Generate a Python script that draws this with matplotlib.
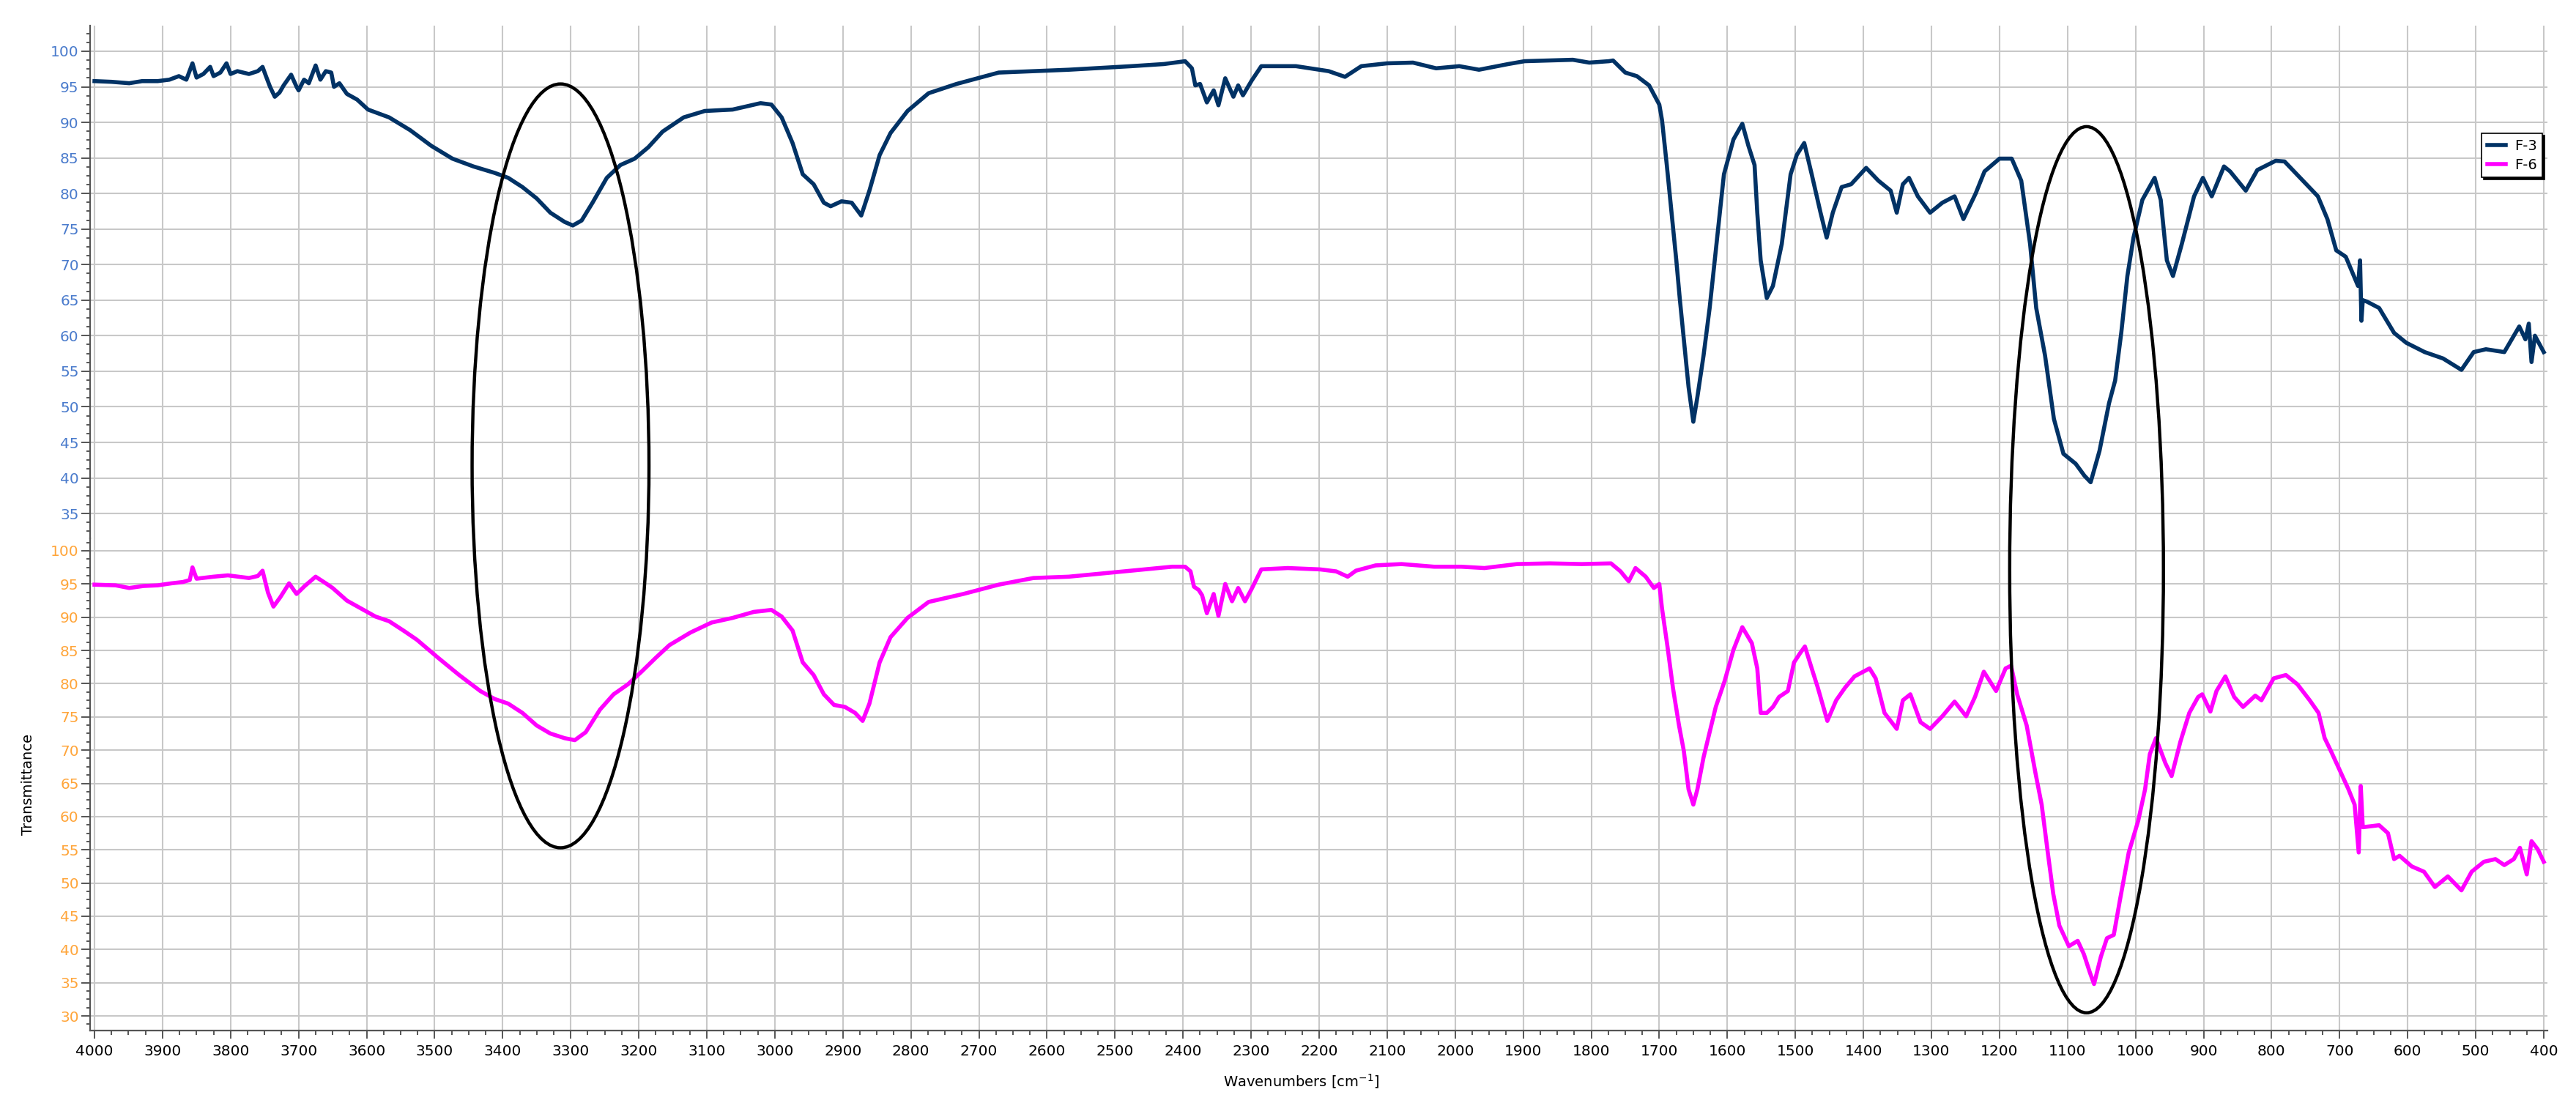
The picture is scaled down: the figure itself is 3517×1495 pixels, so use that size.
import matplotlib
matplotlib.use("Agg")
import matplotlib.pyplot as plt
from matplotlib.patches import Ellipse
from matplotlib.ticker import MultipleLocator, AutoMinorLocator

# F-3 spectrum (top panel), wavenumber [cm-1] / transmittance
wn_f3 = [4000, 3975, 3949, 3930, 3907, 3890, 3876, 3865, 3856, 3850, 3840, 3830, 3825,
         3815, 3806, 3800, 3790, 3773, 3760, 3753, 3748, 3742, 3735, 3728, 3722, 3711,
         3703, 3700, 3692, 3685, 3675, 3668, 3660, 3652, 3648, 3640, 3629, 3614, 3598,
         3567, 3536, 3505, 3474, 3443, 3412, 3392, 3371, 3350, 3330, 3309, 3297, 3284,
         3268, 3247, 3227, 3206, 3186, 3165, 3134, 3103, 3062, 3021, 3005, 2990, 2974,
         2959, 2943, 2928, 2918, 2902, 2887, 2873, 2861, 2846, 2830, 2805, 2774, 2733,
         2671, 2568, 2476, 2428, 2397, 2387, 2382, 2375, 2365, 2355, 2348, 2338, 2326,
         2319, 2312, 2299, 2285, 2234, 2186, 2162, 2138, 2100, 2062, 2028, 1994, 1965,
         1922, 1898, 1827, 1803, 1774, 1768, 1750, 1733, 1715, 1700, 1696, 1689, 1682,
         1675, 1670, 1663, 1657, 1650, 1644, 1635, 1626, 1616, 1605, 1591, 1578, 1569,
         1560, 1556, 1551, 1542, 1533, 1520, 1507, 1498, 1487, 1476, 1463, 1454, 1445,
         1432, 1418, 1396, 1378, 1360, 1351, 1342, 1333, 1320, 1302, 1284, 1266, 1253,
         1235, 1222, 1200, 1182, 1168, 1155, 1146, 1133, 1120, 1106, 1088, 1075, 1066,
         1053, 1039, 1030, 1021, 1012, 1003, 990, 972, 963, 954, 945, 932, 914, 901,
         888, 870, 861, 838, 821, 794, 781, 754, 732, 718, 705, 691, 673, 670, 668,
         666, 660, 642, 620, 602, 575, 548, 521, 503, 485, 458, 436, 427, 422, 418,
         413, 400]
t_f3 = [95.8, 95.7, 95.5, 95.8, 95.8, 96.0, 96.5, 96.0, 98.3, 96.3, 96.8, 97.8, 96.5,
        97.0, 98.3, 96.8, 97.2, 96.8, 97.2, 97.8, 96.5, 95.0, 93.6, 94.2, 95.2, 96.7,
        95.0, 94.5, 96.0, 95.5, 98.0, 96.0, 97.2, 97.0, 95.0, 95.5, 94.0, 93.2, 91.8,
        90.7, 88.9, 86.7, 84.9, 83.8, 82.9, 82.2, 80.9, 79.3, 77.3, 76.0, 75.5, 76.2,
        78.7, 82.2, 84.0, 84.9, 86.5, 88.7, 90.7, 91.6, 91.8, 92.7, 92.5, 90.7, 87.1,
        82.7, 81.3, 78.7, 78.2, 78.9, 78.7, 76.9, 80.4, 85.4, 88.5, 91.6, 94.1, 95.4,
        97.0, 97.4, 97.9, 98.2, 98.6, 97.6, 95.2, 95.4, 92.8, 94.5, 92.4, 96.2, 93.6,
        95.2, 93.8, 95.9, 97.9, 97.9, 97.2, 96.4, 97.9, 98.3, 98.4, 97.6, 97.9, 97.4,
        98.2, 98.6, 98.8, 98.4, 98.6, 98.7, 97.0, 96.5, 95.2, 92.5, 90.3, 84.0, 77.3,
        70.6, 65.3, 58.6, 52.8, 47.9, 51.4, 57.2, 63.9, 72.9, 82.7, 87.6, 89.8, 86.7,
        84.0, 77.3, 70.6, 65.3, 67.0, 72.9, 82.7, 85.4, 87.1, 82.7, 77.3, 73.8, 77.3,
        80.9, 81.3, 83.6, 81.8, 80.4, 77.3, 81.3, 82.2, 79.6, 77.3, 78.7, 79.6, 76.4,
        80.0, 83.1, 84.9, 84.9, 81.8, 72.9, 63.9, 57.2, 48.3, 43.4, 42.0, 40.3, 39.4,
        43.8, 50.5, 53.7, 60.4, 68.4, 73.8, 79.1, 82.2, 79.1, 70.6, 68.4, 72.9, 79.6, 82.2,
        79.6, 83.8, 83.1, 80.4, 83.3, 84.6, 84.5, 81.8, 79.6, 76.4, 72.0, 71.1, 67.0, 70.6, 62.1,
        65.0, 64.8, 63.9, 60.4, 59.0, 57.7, 56.8, 55.2, 57.7, 58.1, 57.7, 61.3, 59.5, 61.7, 56.3,
        60.0, 57.7]

# F-6 spectrum (bottom panel)
wn_f6 = [4000, 3969, 3949, 3928, 3907, 3887, 3870, 3860, 3856, 3850, 3825, 3804, 3773,
         3760, 3753, 3745, 3737, 3727, 3714, 3703, 3691, 3675, 3660, 3650, 3629, 3608,
         3587, 3567, 3546, 3526, 3495, 3464, 3433, 3412, 3392, 3371, 3350, 3330, 3309,
         3294, 3278, 3257, 3237, 3216, 3196, 3175, 3155, 3124, 3093, 3062, 3031, 3005,
         2990, 2974, 2959, 2943, 2928, 2913, 2897, 2882, 2871, 2861, 2846, 2830, 2805,
         2774, 2723, 2671, 2620, 2568, 2517, 2465, 2416, 2397, 2389, 2384, 2377, 2372,
         2365, 2355, 2348, 2338, 2328, 2319, 2309, 2299, 2285, 2246, 2199, 2175, 2158,
         2146, 2117, 2079, 2031, 1991, 1957, 1909, 1861, 1814, 1771, 1757, 1745, 1735,
         1720, 1708, 1700, 1696, 1688, 1680, 1671, 1664, 1657, 1650, 1644, 1635, 1626,
         1617, 1604, 1591, 1578, 1564, 1556, 1551, 1542, 1533, 1524, 1511, 1502, 1493,
         1486, 1476, 1467, 1453, 1440, 1427, 1413, 1391, 1382, 1369, 1351, 1342, 1331,
         1316, 1302, 1284, 1266, 1249, 1236, 1223, 1205, 1191, 1183, 1174, 1160, 1147,
         1138, 1129, 1121, 1112, 1098, 1085, 1076, 1067, 1061, 1051, 1042, 1032, 1023,
         1010, 996, 986, 979, 970, 956, 947, 934, 921, 908, 902, 890, 881, 868, 855,
         842, 824, 815, 797, 779, 762, 744, 731, 722, 713, 700, 687, 678, 672, 669,
         666, 642, 629, 620, 612, 594, 576, 560, 541, 521, 506, 488, 471, 458, 444,
         435, 425, 418, 409, 400]
t_f6 = [94.9, 94.8, 94.4, 94.7, 94.8, 95.1, 95.3, 95.6, 97.5, 95.8, 96.1, 96.3, 95.9,
        96.2, 97.0, 93.7, 91.6, 93.0, 95.1, 93.5, 94.7, 96.1, 95.1, 94.4, 92.5, 91.3,
        90.1, 89.4, 88.0, 86.6, 83.9, 81.3, 78.9, 77.7, 77.0, 75.6, 73.7, 72.5, 71.8,
        71.5, 72.7, 76.1, 78.4, 79.9, 81.8, 83.9, 85.8, 87.7, 89.2, 89.9, 90.8, 91.1,
        90.1, 88.0, 83.2, 81.3, 78.4, 76.8, 76.5, 75.6, 74.4, 77.0, 83.2, 87.0, 89.9,
        92.3, 93.5, 94.9, 95.9, 96.1, 96.6, 97.1, 97.6, 97.6, 96.9, 94.6, 94.1, 93.3,
        90.6, 93.5, 90.2, 95.0, 92.4, 94.4, 92.4, 94.3, 97.2, 97.4, 97.2, 96.9, 96.1,
        97.0, 97.8, 98.0, 97.6, 97.6, 97.4, 98.0, 98.1, 98.0, 98.1, 96.9, 95.4, 97.4,
        96.1, 94.4, 95.0, 91.3, 85.6, 79.4, 73.7, 69.9, 64.1, 61.8, 64.1, 68.9, 72.7,
        76.5, 80.4, 85.1, 88.5, 86.1, 82.3, 75.6, 75.6, 76.5, 78.0, 78.9, 83.2, 84.6,
        85.6, 82.3, 79.4, 74.4, 77.5, 79.4, 81.1, 82.3, 80.8, 75.6, 73.2, 77.5, 78.4,
        74.2, 73.2, 75.1, 77.3, 75.1, 78.0, 81.8, 78.9, 82.3, 82.7, 78.4, 73.7, 66.5,
        61.8, 54.6, 48.4, 43.6, 40.5, 41.3, 39.3, 36.5, 34.8, 38.9, 41.7, 42.2, 47.4,
        54.6, 59.4, 64.1, 69.4, 71.8, 68.0, 66.1, 71.3, 75.6, 78.0, 78.4, 75.8, 78.9, 81.1, 78.0,
        76.5, 78.2, 77.5, 80.8, 81.3, 79.9, 77.5, 75.6, 71.8, 69.9, 67.0, 64.1, 61.8, 54.6, 64.6,
        58.4, 58.7, 57.5, 53.6, 54.1, 52.5, 51.7, 49.4, 51.0, 48.9, 51.7, 53.2, 53.6, 52.7, 53.6,
        55.3, 51.3, 56.3, 55.1, 53.2]

# marked bands (top panel data coords): centre wavenumber, centre T, width, height
ell_oh = (3315, 41.7, 260, 107.4)
ell_co = (1072, 27.1, 226, 124.6)

grid_col = '#c8c8c8'
spine_col = '#555555'

fig = plt.figure(figsize=(35.17, 14.95), dpi=100)
ax_top = fig.add_axes([0.03497, 0.50836, 0.95394, 0.46823])
ax_bot = fig.add_axes([0.03497, 0.05886, 0.95394, 0.4495], sharex=ax_top)

l3, = ax_top.plot(wn_f3, t_f3, color='#013265', lw=4.0, label='F-3', zorder=3)
l6, = ax_bot.plot(wn_f6, t_f6, color='#ff00ff', lw=4.0, label='F-6', zorder=3)

ax_top.set_xlim(4006.5, 394.6)
ax_top.set_ylim(31.51, 103.6)
ax_bot.set_ylim(27.8, 101.87)

for ax, lab_col in [(ax_top, '#4a7bcc'), (ax_bot, '#ffa53a')]:
    ax.yaxis.set_major_locator(MultipleLocator(5))
    ax.yaxis.set_minor_locator(AutoMinorLocator(4))
    ax.xaxis.set_major_locator(MultipleLocator(100))
    ax.xaxis.set_minor_locator(AutoMinorLocator(4))
    ax.grid(True, which='major', color=grid_col, lw=1.5, zorder=0)
    ax.set_axisbelow(True)
    ax.spines['top'].set_visible(False)
    ax.spines['right'].set_visible(False)
    ax.spines['left'].set_color(spine_col)
    ax.spines['left'].set_linewidth(1.6)
    ax.tick_params(axis='y', which='major', direction='out', length=9, width=1.4,
                   color=spine_col, labelcolor=lab_col, labelsize=14.5, pad=2)
    ax.tick_params(axis='y', which='minor', direction='out', length=3.5, width=1.4,
                   color=spine_col)

ax_top.spines['bottom'].set_visible(False)
ax_top.tick_params(axis='x', which='both', bottom=False, labelbottom=False)
ax_bot.spines['bottom'].set_color(spine_col)
ax_bot.spines['bottom'].set_linewidth(1.6)
ax_bot.patch.set_visible(False)
ax_bot.tick_params(axis='x', which='major', direction='out', length=8, width=1.4,
                   color=spine_col, labelsize=14.5, pad=6)
ax_bot.tick_params(axis='x', which='minor', direction='out', length=4, width=1.4,
                   color=spine_col)

ax_bot.set_xlabel('Wavenumbers [cm$^{-1}$]', fontsize=14)
ax_bot.xaxis.set_label_coords(0.493, -0.085)
ax_bot.set_ylabel('Transmittance', fontsize=14)
ax_bot.yaxis.set_label_coords(-0.0225, 0.5)

for cx, cy, w, h in [ell_oh, ell_co]:
    fig.add_artist(Ellipse((cx, cy), w, h, transform=ax_top.transData,
                           fill=False, edgecolor='black', lw=3.2))

leg = ax_top.legend(handles=[l3, l6], loc='upper right', bbox_to_anchor=(0.998, 0.79),
                    borderaxespad=0, fontsize=14, frameon=True, fancybox=False,
                    shadow={'color': 'black', 'alpha': 1}, handlelength=1.3,
                    handletextpad=0.6, borderpad=0.4, labelspacing=0.35)
leg.get_frame().set_edgecolor('black')
leg.get_frame().set_linewidth(1.2)
leg.set_zorder(10)

fig.savefig('out.png', dpi=100)
